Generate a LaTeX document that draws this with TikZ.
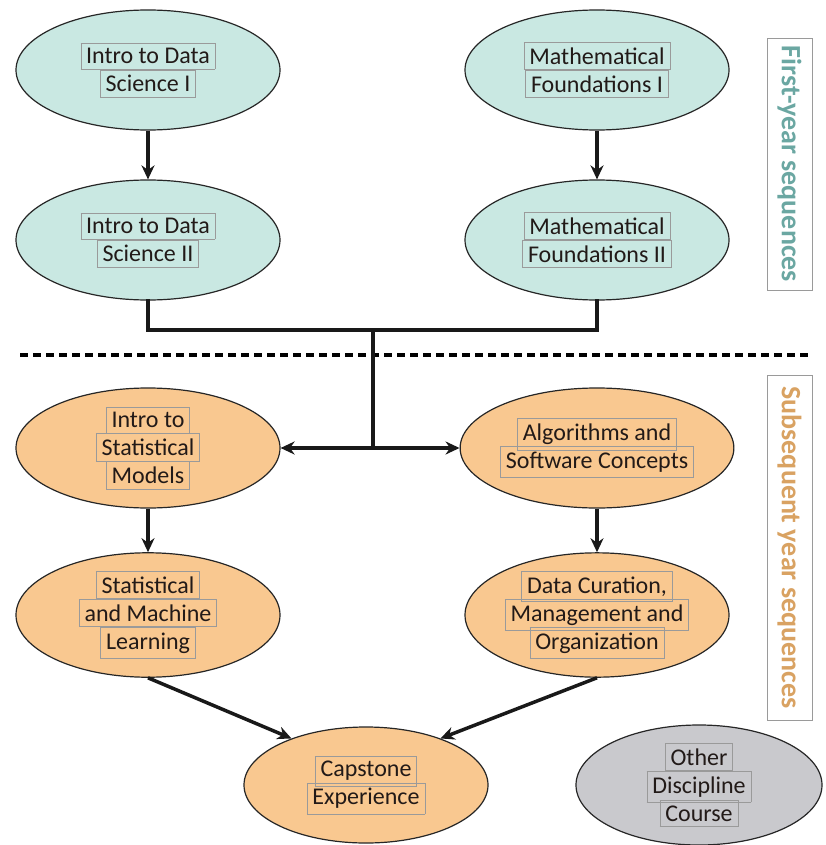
\documentclass[tikz,border=0pt]{standalone}
\usepackage{fontspec}
\setmainfont{Carlito}
\usetikzlibrary{shapes.geometric,arrows.meta}

\definecolor{tealfill}{HTML}{C9E8E2}
\definecolor{orangefill}{HTML}{F9C890}
\definecolor{grayfill}{HTML}{C9C9CD}
\definecolor{framegray}{HTML}{9A9A9A}
\definecolor{tealtext}{HTML}{6BA7A2}
\definecolor{orangetext}{HTML}{D9A262}
\definecolor{inktext}{HTML}{221A18}

% one framed text line
\newcommand{\bx}[1]{{\color{framegray}\fbox{\color{inktext}#1}}}
\setlength{\fboxsep}{5pt}
\setlength{\fboxrule}{0.6pt}
% fixed baseline spacing, framed lines may overlap
\newcommand{\courselines}{\fontsize{24}{28}\selectfont\lineskiplimit=-40pt\relax\lineskip=0pt\relax}

\begin{document}
\begin{tikzpicture}[x=1pt,y=-1pt,
  course/.style={ellipse, draw=black!85, line width=1.2pt,
    minimum width=264pt, minimum height=120pt, inner sep=0pt, align=center,
    font=\courselines},
  first/.style={course, fill=tealfill},
  later/.style={course, fill=orangefill},
  other/.style={course, fill=grayfill},
  link/.style={line width=3.5pt, draw=black!90},
  arr/.style={link, -{Stealth[length=14pt,width=13pt]}},
  side/.style={draw=framegray, line width=0.7pt, rotate=-90, inner sep=0pt,
    minimum height=45pt, font=\fontsize{28}{32}\selectfont\bfseries}
]
\useasboundingbox[fill=white] (0,0) rectangle (825,845);

% first-year courses
\node[first] (ds1) at (148,70) {\bx{Intro to Data}\\\bx{Science I}};
\node[first] (mf1) at (597,70) {\bx{Mathematical}\\\bx{Foundations I}};
\node[first] (ds2) at (148,240) {\bx{Intro to Data}\\\bx{Science II}};
\node[first] (mf2) at (597,240) {\bx{Mathematical}\\\bx{Foundations II}};

% subsequent courses
\node[later] (sm) at (148,448) {\bx{Intro to}\\\bx{Statistical}\\\bx{Models}};
\node[later] (alg) at (597,448) {\bx{Algorithms and}\\\bx{Software Concepts}};
\node[later] (sml) at (148,615) {\bx{Statistical}\\\bx{and Machine}\\\bx{Learning}};
\node[later] (dc) at (597,615) {\bx{Data Curation,}\\\bx{Management and}\\\bx{Organization}};
\node[later, minimum width=244pt, minimum height=116pt] (cap) at (366,785)
  {\bx{Capstone}\\\bx{Experience}};
\node[other, minimum width=246pt] (oth) at (699,785)
  {\bx{Other}\\\bx{Discipline}\\\bx{Course}};

% side labels
\node[side, minimum width=252pt, text=tealtext] (fy) at (789.5,164) {First-year sequences};
\node[side, minimum width=345pt, text=orangetext] (sy) at (789.5,547.5) {Subsequent year sequences};

% divider between the two stages
\coordinate (dl) at (20,355);
\coordinate (dr) at (808,355);
\draw[line width=4pt, dash pattern=on 8pt off 5pt] (dl) -- (dr);

% connectors
\coordinate (join) at (373,330);
\coordinate (split) at (373,448);
\draw[arr] (ds1) -- (ds2);
\draw[arr] (mf1) -- (mf2);
\draw[link, line cap=rect] (ds2.south) |- (join) -| (mf2.south);
\draw[link] (join) -- (split);
\draw[arr] (split) -- (sm);
\draw[arr] (split) -- (alg);
\draw[arr] (sm) -- (sml);
\draw[arr] (alg) -- (dc);
\draw[arr] (sml.south) -- (cap.148);
\draw[arr] (dc.south) -- (cap.32);
\end{tikzpicture}
\end{document}
